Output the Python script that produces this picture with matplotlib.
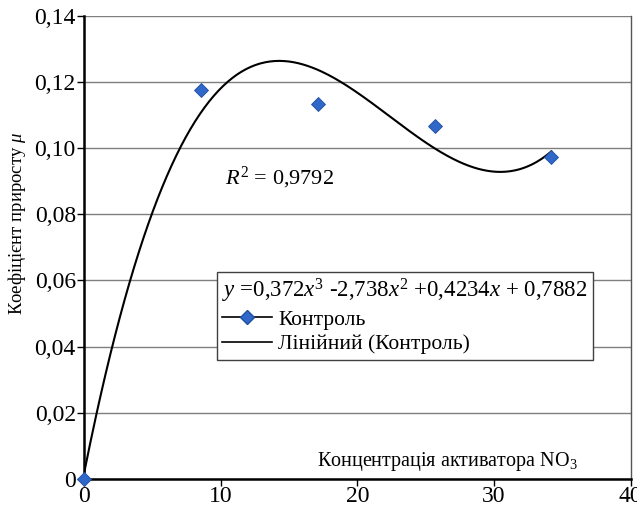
"""Growth coefficient vs NO3 activator concentration, with cubic trendline."""
import numpy as np
import matplotlib
matplotlib.use("Agg")
import matplotlib.pyplot as plt
from matplotlib.lines import Line2D
from matplotlib.ticker import FuncFormatter

plt.rcParams["font.family"] = ["Liberation Serif", "DejaVu Serif"]
plt.rcParams["mathtext.fontset"] = "custom"
plt.rcParams["mathtext.rm"] = "Liberation Serif"
plt.rcParams["mathtext.it"] = "Liberation Serif:italic"

# data
conc = [0, 8.55, 17.1, 25.65, 34.2]
mu = [0.0, 0.1176, 0.1134, 0.1068, 0.0973]

x_ticks = [0, 10, 20, 30, 40]
y_ticks = [0, 0.02, 0.04, 0.06, 0.08, 0.10, 0.12, 0.14]

eq_label = r"$y$ =0,372$x^{3}$ -2,738$x^{2}$ +0,4234$x$ + 0,7882"
r2_label = r"$R^{2}$ = 0,9792"
series_name = "Контроль"
trend_name = "Лінійний (Контроль)"
x_label = r"Концентрація активатора NO$_{3}$"
y_label = r"Коефіцієнт приросту $\mu$"

blue = "#2f68c8"

fig = plt.figure(figsize=(6.37, 5.11), dpi=100)
ax = fig.add_axes([0.132, 0.063, 0.858, 0.906])

# cubic trendline fitted to the points (as the spreadsheet does)
coef = np.polyfit(conc, mu, 3)
xs = np.linspace(conc[0], conc[-1], 300)
ax.plot(xs, np.polyval(coef, xs), color="black", lw=1.5, zorder=3)
ax.plot(conc, mu, linestyle="none", marker="D", markersize=7.5,
        color=blue, markeredgecolor="#1f4f9f", markeredgewidth=0.6,
        zorder=4, clip_on=False)

ax.set_xlim(0, 40)
ax.set_ylim(0, 0.14)
ax.set_xticks(x_ticks)
ax.set_yticks(y_ticks)
fmt = FuncFormatter(lambda v, p: "0" if v == 0 else f"{v:.2f}".replace(".", ","))
ax.yaxis.set_major_formatter(fmt)
ax.tick_params(labelsize=17, length=5, width=1, direction="out", pad=1)
ax.tick_params(axis="x", pad=0)
ax.grid(axis="y", color="#7f7f7f", lw=1)
ax.set_axisbelow(True)

for side in ("left", "bottom"):
    ax.spines[side].set_linewidth(1.8)
ax.spines["right"].set_color("#555555")
ax.spines["right"].set_linewidth(1.0)
ax.spines["top"].set_visible(False)

ax.text(0.258, 0.65, r2_label, transform=ax.transAxes, fontsize=16,
        ha="left", va="center")
ax.text(0.903, 0.038, x_label, transform=ax.transAxes, fontsize=14.5,
        ha="right", va="center")
fig.text(0.027, 0.562, y_label, rotation=90, fontsize=13.5,
         ha="center", va="center")

handles = [
    Line2D([], [], color="black", lw=1.2, marker="D", markersize=7.5,
           markerfacecolor=blue, markeredgecolor="#1f4f9f"),
    Line2D([], [], color="black", lw=1.2),
]
leg = ax.legend(handles, [series_name, trend_name], title=eq_label,
                loc="upper left", bbox_to_anchor=(0.243, 0.447),
                fontsize=15.5, title_fontsize=16.5, fancybox=False,
                framealpha=1, edgecolor="#404040", handlelength=2.3,
                handletextpad=0.3, labelspacing=0.2, borderpad=0.25,
                borderaxespad=0, alignment="left")
leg.get_frame().set_linewidth(1.0)

fig.savefig("out.png", dpi=100)
